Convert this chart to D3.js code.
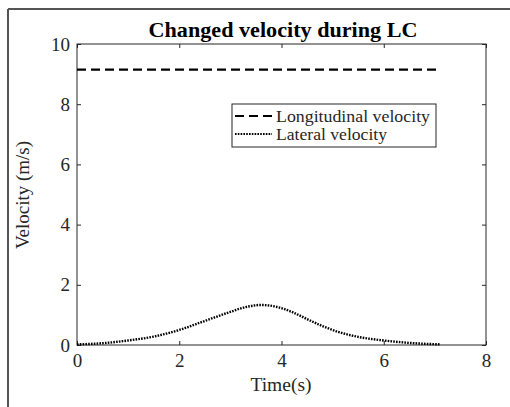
<!DOCTYPE html>
<html>
<head>
<meta charset="utf-8">
<script src="https://cdn.jsdelivr.net/npm/d3@7"></script>
<style>
  body { margin: 0; background: #fff; }
  svg text { font-family: "Liberation Serif", "Times New Roman", serif; }
</style>
</head>
<body>
<svg id="chart" width="510" height="407"></svg>
<script>
// Data
const longTime = [0, 7.1];
const longVel = [9.15, 9.15];
const latTime = [0, 0.5, 1, 1.5, 2, 2.5, 3, 3.3, 3.6, 3.9, 4.2, 4.5, 4.8, 5.1, 5.5, 6, 6.5, 7.1];
const latVel = [0.02, 0.06, 0.15, 0.28, 0.5, 0.8, 1.1, 1.26, 1.33, 1.27, 1.1, 0.86, 0.63, 0.44, 0.27, 0.15, 0.07, 0.02];
const xTicks = [0, 2, 4, 6, 8];
const yTicks = [0, 2, 4, 6, 8, 10];

const svg = d3.select("#chart");
const margin = { left: 77, right: 24, top: 44, bottom: 62 };
const W = 510, H = 407;
const serif = "'Liberation Serif', 'Times New Roman', serif";

// outer frame (top and left edges visible)
svg.append("line").attr("x1", 8).attr("x2", W).attr("y1", 9).attr("y2", 9)
  .attr("stroke", "#555").attr("stroke-width", 2);
svg.append("line").attr("x1", 8).attr("x2", 8).attr("y1", 9).attr("y2", H)
  .attr("stroke", "#555").attr("stroke-width", 2);

const x = d3.scaleLinear().domain([0, 8]).range([margin.left, W - margin.right]);
const y = d3.scaleLinear().domain([0, 10]).range([H - margin.bottom, margin.top]);

const axisColor = "#262626";
const tickLen = 4;

// bottom axis
const gx = svg.append("g").attr("transform", `translate(0,${y(0)})`)
  .call(d3.axisBottom(x).tickValues(xTicks).tickSize(-tickLen).tickPadding(8));
// left axis
const gy = svg.append("g").attr("transform", `translate(${x(0)},0)`)
  .call(d3.axisLeft(y).tickValues(yTicks).tickSize(-tickLen).tickPadding(7));
// top and right ticks
const gt = svg.append("g").attr("transform", `translate(0,${y(10)})`)
  .call(d3.axisTop(x).tickValues(xTicks).tickSize(-tickLen).tickFormat(""));
const gr = svg.append("g").attr("transform", `translate(${x(8)},0)`)
  .call(d3.axisRight(y).tickValues(yTicks).tickSize(-tickLen).tickFormat(""));

[gx, gy, gt, gr].forEach(g => {
  g.attr("font-family", serif).attr("font-size", 19);
  g.select(".domain").remove();
  g.selectAll("line").attr("stroke", axisColor);
  g.selectAll("text").attr("fill", axisColor);
});
gx.selectAll("text").attr("dy", "0.75em");

svg.append("rect")
  .attr("x", x(0)).attr("y", y(10))
  .attr("width", x(8) - x(0)).attr("height", y(0) - y(10))
  .attr("fill", "none").attr("stroke", axisColor).attr("stroke-width", 1);

const line = d3.line().x(d => x(d[0])).y(d => y(d[1]));

svg.append("path")
  .datum(longTime.map((t, i) => [t, longVel[i]]))
  .attr("d", line)
  .attr("fill", "none").attr("stroke", "#000").attr("stroke-width", 2.2)
  .attr("stroke-dasharray", "9,5");

svg.append("path")
  .datum(latTime.map((t, i) => [t, latVel[i]]))
  .attr("d", line.curve(d3.curveMonotoneX))
  .attr("fill", "none").attr("stroke", "#000").attr("stroke-width", 2.4)
  .attr("stroke-dasharray", "1.6,1.2");

// title and axis labels
svg.append("text").attr("x", 283).attr("y", 37).attr("text-anchor", "middle")
  .attr("font-family", serif).attr("font-size", 21.5).attr("font-weight", "bold").attr("fill", "#000")
  .attr("textLength", 269).attr("lengthAdjust", "spacingAndGlyphs")
  .text("Changed velocity during LC");
svg.append("text").attr("x", 281).attr("y", 391).attr("text-anchor", "middle")
  .attr("font-family", serif).attr("font-size", 19.5).attr("fill", axisColor).text("Time(s)");
svg.append("text").attr("transform", "translate(29,195) rotate(-90)").attr("text-anchor", "middle")
  .attr("font-family", serif).attr("font-size", 19).attr("fill", axisColor).text("Velocity (m/s)");

// legend
const leg = svg.append("g");
leg.append("rect").attr("x", 232).attr("y", 104).attr("width", 204).attr("height", 43)
  .attr("fill", "#fff").attr("stroke", axisColor).attr("stroke-width", 1);
const items = [
  { label: "Longitudinal velocity", dash: "9,5", yy: 116, len: 154 },
  { label: "Lateral velocity", dash: "1.6,1.2", yy: 134, len: 111 }
];
items.forEach(it => {
  leg.append("line").attr("x1", 235).attr("x2", 272).attr("y1", it.yy).attr("y2", it.yy)
    .attr("stroke", "#000").attr("stroke-width", 2.2).attr("stroke-dasharray", it.dash);
  leg.append("text").attr("x", 276).attr("y", it.yy + 6)
    .attr("font-family", serif).attr("font-size", 16.5).attr("fill", axisColor)
    .attr("textLength", it.len).attr("lengthAdjust", "spacingAndGlyphs")
    .text(it.label);
});
</script>
</body>
</html>
